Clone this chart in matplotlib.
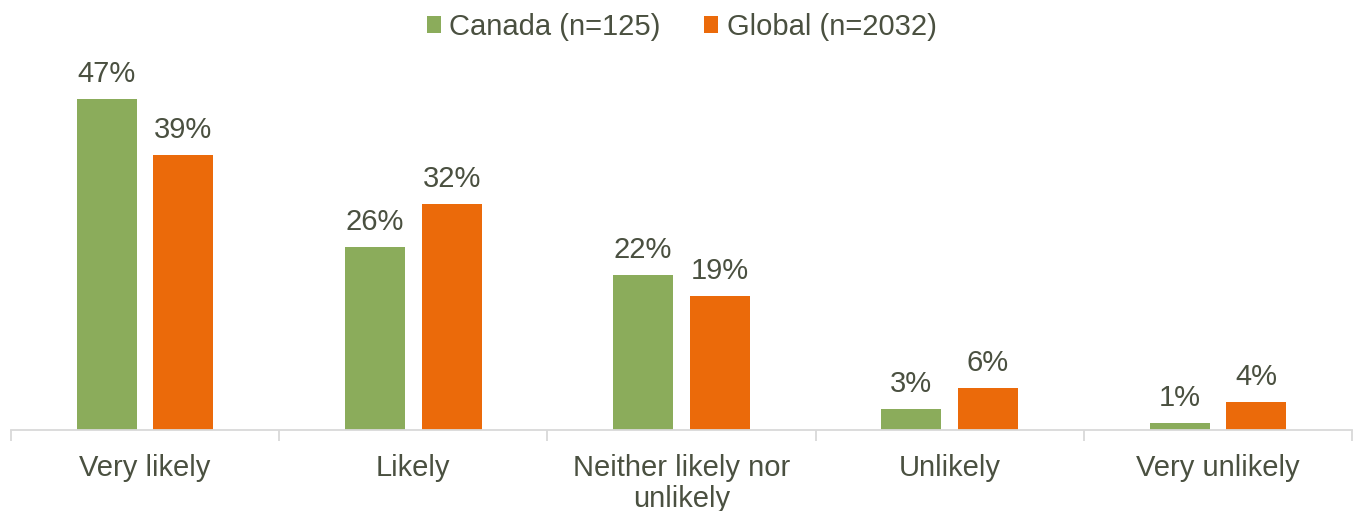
import matplotlib
matplotlib.use("Agg")
import matplotlib.pyplot as plt
import numpy as np

categories = ["Very likely", "Likely", "Neither likely nor\nunlikely", "Unlikely", "Very unlikely"]
canada = [47, 26, 22, 3, 1]
global_ = [39, 32, 19, 6, 4]
series_names = ["Canada (n=125)", "Global (n=2032)"]

GREEN = "#8BAC5B"
ORANGE = "#EB6A0A"
TEXT = "#4A5040"
AXIS = "#D9D9D9"

plt.rcParams['font.family'] = ['Liberation Sans', 'DejaVu Sans']

fig = plt.figure(figsize=(13.55, 5.11), dpi=100)
ax = fig.add_axes([11/1355, 81/511, 1341/1355, 380/511])

x = np.arange(len(categories))
w = 0.224
off = 0.143
b1 = ax.bar(x - off, canada, w, color=GREEN, label=series_names[0])
b2 = ax.bar(x + off, global_, w, color=ORANGE, label=series_names[1])

for bars, vals in ((b1, canada), (b2, global_)):
    for r, v in zip(bars, vals):
        ax.annotate(f"{v}%", (r.get_x() + r.get_width()/2, v), xytext=(0, 8),
                    textcoords="offset points", ha="center", va="bottom",
                    fontsize=21, color=TEXT)

ax.set_xlim(-0.5, len(categories) - 0.5)
ax.set_ylim(0, 380/7.05)
ax.set_yticks([])
for s in ("top", "right", "left"):
    ax.spines[s].set_visible(False)
ax.spines["bottom"].set_color(AXIS)
ax.spines["bottom"].set_linewidth(1.3)

ax.set_xticks(x)
ax.set_xticklabels(categories, fontsize=21, color=TEXT, linespacing=1.14)
ax.tick_params(axis="x", length=0, pad=17)
ax.set_xticks(np.arange(-0.5, len(categories)), minor=True)
ax.tick_params(axis="x", which="minor", length=8, color=AXIS, width=1.3)

leg = ax.legend(loc="upper center", bbox_to_anchor=(0.5, 1 + 49/380), ncol=2, frameon=False,
                fontsize=21, handlelength=0.5, handleheight=0.5, handletextpad=0.28,
                columnspacing=1.48, labelcolor=TEXT, borderaxespad=0)

fig.savefig("out.png", dpi=100)
